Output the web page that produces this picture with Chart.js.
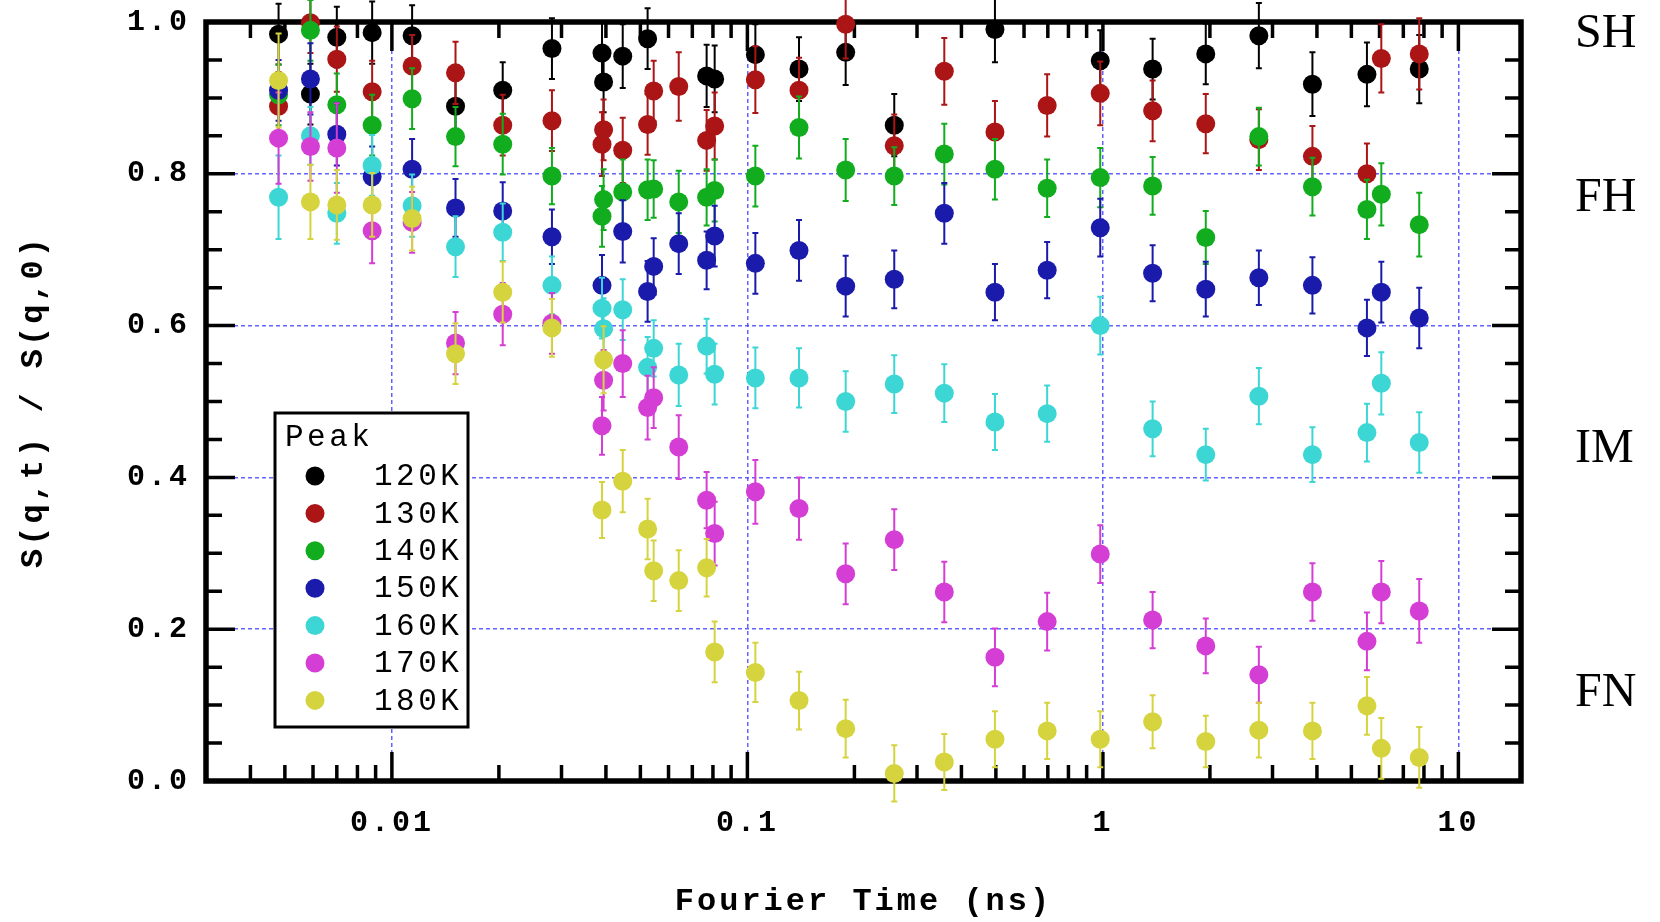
<!DOCTYPE html>
<html>
<head>
<meta charset="utf-8">
<script src="https://cdn.jsdelivr.net/npm/chart.js@4/dist/chart.umd.min.js"></script>
<style>
    html, body { margin: 0; padding: 0; background: #fff; }
    #wrap { width: 1660px; height: 922px; }
</style>
</head>
<body>
<div id="wrap"><canvas id="chart" width="1660" height="922"></canvas></div>
<script>
// Fourier times (ns) shared by all temperature runs
const fourierTimes = [0.0048, 0.0059, 0.0070, 0.0088, 0.0114, 0.0151, 0.0205, 0.0282, 0.0390, 0.0394,
    0.0446, 0.0524, 0.0545, 0.0641, 0.0768, 0.0809, 0.1053, 0.1397, 0.189, 0.2589,
    0.358, 0.497, 0.697, 0.983, 1.38, 1.947, 2.746, 3.885, 5.53, 6.07, 7.76];

const seriesLabels = ["120K", "130K", "140K", "150K", "160K", "170K", "180K"];
const seriesColors = ["#000000", "#ab1515", "#12ad1f", "#1a1aab", "#3cd6d5", "#d53ed4", "#d5d43f"];

// S(q,t)/S(q,0), null where a run has no point
const s120 = [0.984, 0.905, 0.980, 0.986, 0.982, 0.889, 0.910, 0.965, 0.959, 0.921, 0.955, 0.978, null, null, 0.929, 0.925,
    0.957, 0.938, 0.960, 0.864, null, 0.990, null, 0.949, 0.938, 0.958, 0.982, 0.918, 0.931, null, 0.938];
const s130 = [0.889, 0.999, 0.951, 0.908, 0.942, 0.933, 0.864, 0.870, 0.839, 0.858, 0.831, 0.865, 0.909, 0.915, 0.844, 0.863,
    0.924, 0.910, 0.997, 0.837, 0.935, 0.855, 0.890, 0.906, 0.883, 0.866, 0.845, 0.823, 0.800, 0.952, 0.958];
const s140 = [0.904, 0.989, 0.891, 0.864, 0.899, 0.849, 0.839, 0.797, 0.744, 0.766, 0.776, 0.779, 0.780, 0.763, 0.769, 0.778,
    0.797, 0.861, 0.805, 0.797, 0.826, 0.806, 0.781, 0.795, 0.784, 0.716, 0.849, 0.783, 0.753, 0.773, 0.733];
const s150 = [0.910, 0.925, 0.852, 0.796, 0.806, 0.755, 0.751, 0.717, 0.653, null, 0.724, 0.645, 0.678, 0.708, 0.686, 0.718,
    0.682, 0.699, 0.652, 0.661, 0.748, 0.644, 0.673, 0.729, 0.669, 0.648, 0.663, 0.653, 0.597, 0.644, 0.610];
const s160 = [0.769, 0.850, 0.748, 0.811, 0.758, 0.704, 0.723, 0.653, 0.623, 0.596, 0.621, 0.545, 0.570, 0.535, 0.573, 0.536,
    0.531, 0.531, 0.500, 0.523, 0.511, 0.473, 0.484, 0.600, 0.464, 0.430, 0.507, 0.430, 0.459, 0.524, 0.446];
const s170 = [0.847, 0.836, 0.834, 0.725, 0.736, 0.577, 0.615, 0.603, 0.468, 0.528, 0.550, 0.492, 0.505, 0.440, 0.370, 0.326,
    0.381, 0.359, 0.273, 0.318, 0.249, 0.163, 0.210, 0.299, 0.212, 0.178, 0.140, 0.249, 0.184, 0.249, 0.224];
const s180 = [0.923, 0.763, 0.759, 0.759, 0.741, 0.563, 0.644, 0.597, 0.357, 0.555, 0.395, 0.332, 0.277, 0.264, 0.281, 0.170,
    0.143, 0.106, 0.069, 0.010, 0.025, 0.055, 0.066, 0.055, 0.078, 0.052, 0.067, 0.066, 0.099, 0.043, 0.031];

// error bar half heights
const e120 = [0.040, 0.040, 0.040, 0.041, 0.040, 0.040, 0.037, 0.040, 0.040, 0.040, 0.042, 0.040, null, null, 0.041, 0.044,
    0.040, 0.042, 0.043, 0.041, null, 0.043, null, 0.040, 0.040, 0.040, 0.043, 0.042, 0.042, null, 0.045];
const e130 = [0.045, 0.040, 0.043, 0.041, 0.041, 0.041, 0.040, 0.040, 0.042, 0.040, 0.043, 0.040, 0.040, 0.045, 0.040, 0.044,
    0.044, 0.043, 0.045, 0.041, 0.044, 0.041, 0.041, 0.042, 0.040, 0.039, 0.040, 0.040, 0.040, 0.045, 0.047];
const e140 = [0.040, 0.040, 0.041, 0.040, 0.040, 0.039, 0.040, 0.037, 0.040, 0.040, 0.043, 0.040, 0.038, 0.041, 0.037, 0.041,
    0.040, 0.041, 0.041, 0.038, 0.040, 0.040, 0.038, 0.039, 0.038, 0.035, 0.038, 0.038, 0.039, 0.041, 0.042];
const e150 = [0.040, 0.047, 0.041, 0.040, 0.040, 0.038, 0.038, 0.036, 0.040, null, 0.041, 0.040, 0.037, 0.040, 0.038, 0.040,
    0.040, 0.040, 0.040, 0.038, 0.040, 0.037, 0.037, 0.038, 0.037, 0.036, 0.036, 0.037, 0.037, 0.040, 0.040];
const e160 = [0.055, 0.038, 0.040, 0.040, 0.041, 0.040, 0.038, 0.038, 0.040, 0.040, 0.040, 0.040, 0.037, 0.041, 0.036, 0.040,
    0.040, 0.039, 0.040, 0.038, 0.038, 0.037, 0.037, 0.038, 0.036, 0.034, 0.037, 0.036, 0.038, 0.041, 0.040];
const e170 = [0.060, 0.045, 0.059, 0.043, 0.040, 0.041, 0.041, 0.040, 0.038, 0.040, 0.044, 0.042, 0.040, 0.042, 0.037, 0.042,
    0.042, 0.041, 0.040, 0.040, 0.040, 0.038, 0.038, 0.038, 0.037, 0.036, 0.037, 0.038, 0.038, 0.041, 0.042];
const e180 = [0.062, 0.049, 0.046, 0.042, 0.042, 0.040, 0.040, 0.038, 0.037, 0.044, 0.041, 0.040, 0.040, 0.040, 0.038, 0.040,
    0.039, 0.038, 0.038, 0.037, 0.037, 0.037, 0.037, 0.037, 0.035, 0.034, 0.036, 0.037, 0.038, 0.040, 0.040];

const xTickValues = [0.01, 0.1, 1, 10];
const xTickLabels = ["0.01", "0.1", "1", "10"];
const phaseLabels = ["SH", "FH", "IM", "FN"];
const phaseLevels = [0.984, 0.768, 0.437, 0.116];

const MONO = "'Liberation Mono', 'Courier New', monospace";

function toPoints(values, errors) {
    let points = [];
    values.forEach(function(v, i) {
        if (v === null) return;
        points.push({x: fourierTimes[i], y: v, err: errors[i]});
    });
    return points;
}

let allValues = [s120, s130, s140, s150, s160, s170, s180];
let allErrors = [e120, e130, e140, e150, e160, e170, e180];

let datasets = allValues.map(function(values, i) {
    return {
        label: seriesLabels[i],
        data: toPoints(values, allErrors[i]),
        backgroundColor: seriesColors[i],
        borderColor: seriesColors[i],
        pointRadius: 9.5,
        pointBorderWidth: 0,
        showLine: false,
        clip: false,
        // later temperatures sit on top
        order: allValues.length - i
    };
});

let spacing = {
    id: "spacing",
    beforeDraw: function(chart) {
        chart.ctx.letterSpacing = "3px";
    }
};

let errorBars = {
    id: "errorBars",
    beforeDatasetDraw: function(chart, args) {
        let ctx = chart.ctx;
        let ds = chart.data.datasets[args.index];
        let ys = chart.scales.y;
        ctx.save();
        ctx.strokeStyle = ds.backgroundColor;
        ctx.lineWidth = 2;
        args.meta.data.forEach(function(pt, i) {
            let d = ds.data[i];
            let top = ys.getPixelForValue(d.y + d.err);
            let bot = ys.getPixelForValue(d.y - d.err);
            ctx.beginPath();
            ctx.moveTo(pt.x, top);
            ctx.lineTo(pt.x, bot);
            ctx.moveTo(pt.x - 3, top);
            ctx.lineTo(pt.x + 3, top);
            ctx.moveTo(pt.x - 3, bot);
            ctx.lineTo(pt.x + 3, bot);
            ctx.stroke();
        });
        ctx.restore();
    }
};

let frame = {
    id: "frame",
    beforeDatasetsDraw: function(chart) {
        let ctx = chart.ctx;
        let a = chart.chartArea;
        let xs = chart.scales.x;
        let ys = chart.scales.y;
        ctx.save();
        ctx.strokeStyle = "#000";
        ctx.lineWidth = 3.5;
        ctx.beginPath();
        // log ticks, long ones on each decade
        [0.001, 0.01, 0.1, 1, 10].forEach(function(dec) {
            for (let m = 1; m <= 9; m++) {
                let v = m * dec;
                if (v < xs.min || v > xs.max) continue;
                let px = xs.getPixelForValue(v);
                let len = m === 1 ? 29 : 16;
                ctx.moveTo(px, a.bottom);
                ctx.lineTo(px, a.bottom - len);
                ctx.moveTo(px, a.top);
                ctx.lineTo(px, a.top + len);
            }
        });
        for (let k = 1; k < 20; k++) {
            let py = ys.getPixelForValue(k * 0.05);
            let len = k % 4 === 0 ? 29 : 16;
            ctx.moveTo(a.left, py);
            ctx.lineTo(a.left + len, py);
            ctx.moveTo(a.right, py);
            ctx.lineTo(a.right - len, py);
        }
        ctx.stroke();
        ctx.lineWidth = 5.5;
        ctx.strokeRect(a.left, a.top, a.right - a.left, a.bottom - a.top);
        ctx.restore();
    }
};

let peakLegend = {
    id: "peakLegend",
    afterDraw: function(chart) {
        let ctx = chart.ctx;
        ctx.save();
        ctx.fillStyle = "#fff";
        ctx.fillRect(275, 413, 193, 314);
        ctx.strokeStyle = "#000";
        ctx.lineWidth = 3;
        ctx.strokeRect(275, 413, 193, 314);
        ctx.fillStyle = "#000";
        ctx.font = "31px " + MONO;
        ctx.letterSpacing = "3.5px";
        ctx.textBaseline = "middle";
        ctx.textAlign = "left";
        ctx.fillText("Peak", 285, 438);
        chart.data.datasets.forEach(function(ds, i) {
            let cy = 476 + i * 37.4;
            ctx.fillStyle = ds.backgroundColor;
            ctx.beginPath();
            ctx.arc(315, cy, 9.5, 0, Math.PI * 2);
            ctx.fill();
            ctx.fillStyle = "#000";
            ctx.fillText(ds.label, 374, cy + 1);
        });
        ctx.restore();
    }
};

let phaseNames = {
    id: "phaseNames",
    afterDraw: function(chart) {
        let ctx = chart.ctx;
        let ys = chart.scales.y;
        ctx.save();
        ctx.letterSpacing = "0px";
        ctx.fillStyle = "#000";
        ctx.font = "48px 'Liberation Serif', 'Times New Roman', serif";
        ctx.textBaseline = "middle";
        ctx.textAlign = "left";
        phaseLabels.forEach(function(name, i) {
            ctx.fillText(name, 1575, ys.getPixelForValue(phaseLevels[i]));
        });
        ctx.restore();
    }
};

let gridDash = {
    color: "rgba(72, 72, 255, 0.85)",
    lineWidth: 1.5,
    drawTicks: false
};

function fixBox(size, key) {
    return function(axis) {
        axis[key] = size;
        axis.paddingTop = 0;
        axis.paddingBottom = 0;
        axis.paddingLeft = 0;
        axis.paddingRight = 0;
    };
}

let chart = new Chart(document.getElementById("chart").getContext("2d"), {
    type: "scatter",
    data: {datasets: datasets},
    options: {
        responsive: false,
        animation: false,
        devicePixelRatio: 1,
        events: [],
        layout: {
            autoPadding: false,
            padding: {left: 0, top: 22, right: 139, bottom: 0}
        },
        plugins: {
            legend: {display: false},
            tooltip: {enabled: false}
        },
        scales: {
            x: {
                type: "logarithmic",
                min: 0.003,
                max: 15,
                grid: gridDash,
                border: {display: false, dash: [4, 3]},
                afterBuildTicks: function(axis) {
                    axis.ticks = xTickValues.map(function(v) { return {value: v}; });
                },
                afterFit: fixBox(141, "height"),
                ticks: {
                    autoSkip: false,
                    maxRotation: 0,
                    padding: 24,
                    color: "#000",
                    font: {family: MONO, size: 30, weight: "bold"},
                    callback: function(value, index) {
                        return xTickLabels[index];
                    }
                },
                title: {
                    display: true,
                    text: "Fourier Time (ns)",
                    color: "#000",
                    font: {family: MONO, size: 32, weight: "bold"},
                    padding: {top: 0, bottom: 1}
                }
            },
            y: {
                min: 0,
                max: 1,
                grid: gridDash,
                border: {display: false, dash: [4, 3]},
                afterFit: fixBox(206, "width"),
                ticks: {
                    stepSize: 0.2,
                    padding: 16,
                    color: "#000",
                    font: {family: MONO, size: 30, weight: "bold"},
                    callback: function(value) {
                        return value.toFixed(1);
                    }
                },
                title: {
                    display: true,
                    text: "S(q,t) / S(q,0)",
                    color: "#000",
                    font: {family: MONO, size: 32, weight: "bold"},
                    padding: {top: 15, bottom: 0}
                }
            }
        }
    },
    plugins: [spacing, errorBars, frame, peakLegend, phaseNames]
});
</script>
</body>
</html>
